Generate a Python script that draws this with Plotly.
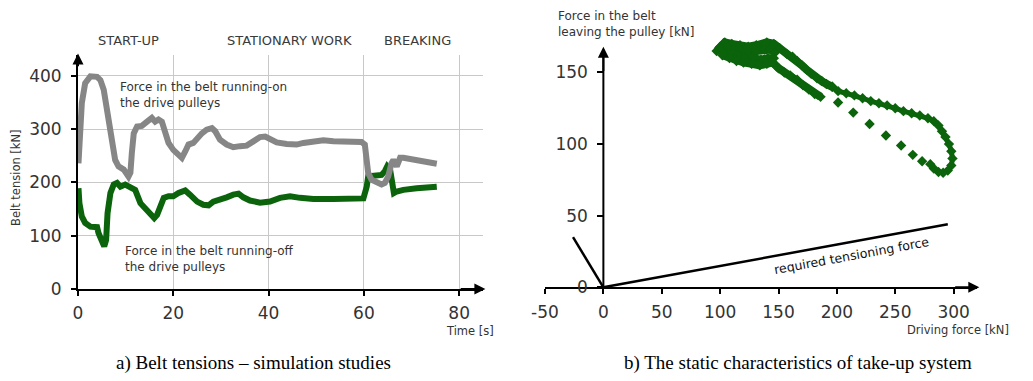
import plotly.graph_objects as go

# ---------------- data: left chart (belt tensions vs time) ----------------
on_t = [0.1, 0.4, 0.8, 1.5, 2.6, 4.0, 4.7, 5.4, 6.1, 6.8, 7.5, 7.8, 8.5, 9.6, 10.6,
        11.0, 11.3, 11.7, 12.4, 13.4, 14.5, 15.5, 16.2, 16.9, 17.6, 18.3, 19.0, 20.0,
        21.1, 21.8, 22.5, 23.2, 24.2, 25.0, 26.0, 27.0, 28.1, 28.8, 29.8, 31.2, 32.6,
        34.0, 35.4, 36.8, 38.2, 39.3, 40.3, 41.7, 43.8, 45.9, 47.3, 49.4, 51.5, 53.6,
        57.1, 59.5, 60.2, 60.6, 60.9, 61.6, 62.7, 63.7, 64.4, 65.1, 65.8, 66.2, 66.9,
        67.2, 67.6, 68.3, 70.4, 72.5, 75.3]
on_v = [236, 300, 349, 386, 399, 398, 392, 374, 336, 305, 267, 242, 230, 224, 211,
        218, 255, 292, 305, 306, 314, 321, 314, 318, 314, 292, 274, 261,
        252, 246, 258, 271, 274, 283, 292, 299, 302, 296, 280, 271, 266,
        268, 269, 277, 285, 286, 280, 275, 272, 271, 274, 277, 279, 277,
        276, 276, 271, 242, 218, 205, 199, 196, 199, 211, 236, 242, 230,
        236, 246, 246, 242, 239, 235]

off_t = [0.1, 0.3, 0.8, 1.5, 2.6, 4.0, 4.3, 5.0, 5.5, 5.9, 6.2, 6.8, 7.5, 8.2, 8.9,
         9.9, 11.0, 12.0, 13.1, 14.1, 15.2, 16.0, 16.6, 17.3, 18.0, 19.0, 20.0, 21.1,
         22.5, 23.5, 25.0, 26.3, 27.4, 28.4, 29.8, 31.2, 32.6, 33.7, 34.7, 36.1, 38.2,
         40.3, 42.4, 44.5, 46.6, 49.4, 53.6, 57.1, 59.9, 60.6, 60.9, 61.6, 63.0, 63.7,
         64.4, 64.9, 65.5, 66.0, 66.3, 66.9, 68.3, 71.1, 75.3]
off_v = [189, 161, 136, 124, 117, 116, 105, 86, 80, 92, 142, 180, 196, 199, 192,
         196, 192, 186, 161, 152, 142, 133, 139, 155, 171, 174, 174, 180,
         185, 177, 164, 158, 157, 164, 167, 172, 177, 179, 172, 166, 162,
         164, 171, 174, 171, 169, 169, 169, 170, 192, 211, 212, 212, 214,
         221, 230, 224, 199, 180, 183, 186, 189, 192]

left_xticks = [0, 20, 40, 60, 80]
left_yticks = [0, 100, 200, 300, 400]
phase_labels = ["START-UP", "STATIONARY WORK", "BREAKING"]

# ---------------- data: right chart (static characteristics) ----------------
clu_upper_x = [97, 100, 104, 110, 117, 124, 131, 140, 146, 151, 157, 162, 166, 170,
               174, 178, 183, 187, 191, 196]
clu_upper_y = [165, 168, 171, 170, 169, 168, 169, 171, 170, 167, 163, 161, 158, 155,
               152, 149, 146, 144, 142, 140]
clu_mid_x = [101, 106, 112, 118, 124, 131, 138, 143, 147]
clu_mid_y = [166, 167, 166, 165, 165, 165, 166, 166, 164]
clu_mid2_x = [103, 109, 115, 121, 128, 135, 141, 146]
clu_mid2_y = [164, 163, 162, 160, 160, 159, 160, 160]
clu_lower_x = [102, 108, 114, 120, 127, 134, 140, 145, 150, 155, 160, 166, 171, 176,
               181, 186]
clu_lower_y = [162, 160, 158, 157, 156, 155, 156, 157, 153, 150, 148, 145, 141, 138,
               135, 133]
branch_x = [196, 201, 208, 215, 222, 229, 236, 243, 250, 257, 264, 271, 278, 283, 287,
            290, 293, 296, 298, 299, 298, 295, 291, 287, 283]
branch_y = [140, 137, 135.5, 134, 132, 130, 128.5, 127, 125, 123, 121.5, 120, 118, 116,
            113, 109, 105, 100, 95, 90, 85, 81.5, 80, 80.5, 83]
return_x = [280, 273, 265, 255, 242, 228, 214, 201]
return_y = [86, 88, 92.5, 99, 106, 114, 122, 129]

req_x = [0, 295]
req_y = [0, 44]
aux_x = [0, -26]
aux_y = [0, 35]

right_xticks = [-50, 0, 50, 100, 150, 200, 250, 300]
right_xticktext = ["-50", "0", "50", "100", "150", "200", "250", "300"]
right_yticks = [0, 50, 100, 150]
right_ytop = 168   # top of the drawn force axis

# ---------------- styling ----------------
GRAY = "#868686"
GREEN = "#0b640b"
TXT = "#333333"
FONT = "DejaVu Sans"
W, H = 1033, 381


def px_x(p):
    return p / W


def px_y(p):
    return (H - p) / H


fig = go.Figure()

# left chart
fig.add_trace(go.Scatter(x=off_t, y=off_v, mode="lines", line=dict(color=GREEN, width=6),
                         xaxis="x", yaxis="y", showlegend=False, hoverinfo="skip"))
fig.add_trace(go.Scatter(x=on_t, y=on_v, mode="lines", line=dict(color=GRAY, width=6),
                         xaxis="x", yaxis="y", showlegend=False, hoverinfo="skip"))

# right chart
for xs, ys, lw in [(clu_upper_x, clu_upper_y, 8), (clu_mid_x, clu_mid_y, 8),
                   (clu_mid2_x, clu_mid2_y, 8),
                   (clu_lower_x, clu_lower_y, 8), (branch_x, branch_y, 5)]:
    fig.add_trace(go.Scatter(x=xs, y=ys, mode="lines+markers",
                             line=dict(color=GREEN, width=lw),
                             marker=dict(symbol="diamond", size=8, color=GREEN),
                             cliponaxis=False,
                             xaxis="x2", yaxis="y2", showlegend=False, hoverinfo="skip"))
fig.add_trace(go.Scatter(x=return_x, y=return_y, mode="markers",
                         marker=dict(symbol="diamond", size=8, color=GREEN),
                         xaxis="x2", yaxis="y2", showlegend=False, hoverinfo="skip"))
fig.add_trace(go.Scatter(x=req_x, y=req_y, mode="lines", line=dict(color="black", width=2.5),
                         xaxis="x2", yaxis="y2", showlegend=False, hoverinfo="skip"))
fig.add_trace(go.Scatter(x=aux_x, y=aux_y, mode="lines", line=dict(color="black", width=2.5),
                         xaxis="x2", yaxis="y2", showlegend=False, hoverinfo="skip"))

tickfont = dict(family=FONT, size=17, color=TXT)

# right y range extended above the drawn axis so the data is not clipped
y2_top_val = 182
y2_scale = (287.3 - 46.7) / right_ytop   # px per unit
y2_top_px = 287.3 - y2_top_val * y2_scale

fig.update_layout(
    width=W, height=H,
    margin=dict(l=0, r=0, t=0, b=0),
    paper_bgcolor="white", plot_bgcolor="rgba(0,0,0,0)",
    font=dict(family=FONT, color=TXT),
    xaxis=dict(domain=[px_x(78), px_x(483)], range=[0, 85], anchor="y", automargin=False,
               tickvals=left_xticks, ticks="outside", ticklen=5, tickwidth=2, tickcolor="black",
               showline=True, linecolor="black", linewidth=2,
               showgrid=True, gridcolor="#c8c8c8", gridwidth=1, zeroline=False,
               tickfont=tickfont, ticklabelstandoff=3, fixedrange=True),
    yaxis=dict(domain=[px_y(289), px_y(55)], range=[0, 439], anchor="x", automargin=False,
               tickvals=left_yticks, ticks="outside", ticklen=5, tickwidth=2, tickcolor="black",
               showline=True, linecolor="black", linewidth=2,
               showgrid=True, gridcolor="#c8c8c8", gridwidth=1, zeroline=False,
               tickfont=tickfont, ticklabelstandoff=6, fixedrange=True),
    xaxis2=dict(domain=[px_x(545), px_x(977)], range=[-50, 320], anchor="y2", automargin=False,
                tickvals=right_xticks, ticktext=right_xticktext,
                ticks="outside", ticklen=5, tickwidth=2, tickcolor="black",
                showline=True, linecolor="black", linewidth=2,
                showgrid=False, zeroline=False, tickfont=tickfont,
                ticklabelstandoff=3, fixedrange=True),
    yaxis2=dict(domain=[px_y(287.3), px_y(y2_top_px)], range=[0, y2_top_val], anchor="free",
                position=px_x(603.3), automargin=False,
                tickvals=right_yticks, ticks="outside", ticklen=6, tickwidth=2, tickcolor="black",
                showline=False, showgrid=False, zeroline=False, tickfont=tickfont,
                ticklabelstandoff=6, fixedrange=True),
    shapes=[dict(type="line", xref="x2", yref="y2", x0=0, x1=0, y0=0, y1=right_ytop - 4,
                 line=dict(color="black", width=2), layer="above")],
)

ann = []
# axis arrows
arrow = dict(showarrow=True, arrowhead=2, arrowsize=1.1, arrowwidth=2, arrowcolor="black",
             text="")
ann.append(dict(x=0, y=442, ax=0, ay=415, xref="x", yref="y", axref="x", ayref="y", **arrow))
ann.append(dict(x=85.5, y=0, ax=80, ay=0, xref="x", yref="y", axref="x", ayref="y", **arrow))
ann.append(dict(x=0, y=right_ytop, ax=0, ay=150, xref="x2", yref="y2", axref="x2", ayref="y2",
                **arrow))
ann.append(dict(x=322, y=0, ax=300, ay=0, xref="x2", yref="y2", axref="x2", ayref="y2", **arrow))

# phase labels
for lbl, cx in zip(phase_labels, [128, 289, 417]):
    ann.append(dict(x=px_x(cx), y=px_y(40), xref="paper", yref="paper", text=lbl,
                    showarrow=False, xanchor="center", yanchor="middle",
                    font=dict(family=FONT, size=13, color="#3a3a3a")))

# left axis titles
ann.append(dict(x=px_x(16), y=px_y(178), xref="paper", yref="paper", text="Belt tension [kN]",
                textangle=-90, showarrow=False, xanchor="center", yanchor="middle",
                font=dict(family=FONT, size=11.5, color=TXT)))
ann.append(dict(x=px_x(470), y=px_y(331), xref="paper", yref="paper", text="Time [s]",
                showarrow=False, xanchor="center", yanchor="middle",
                font=dict(family=FONT, size=11.5, color=TXT)))

# series labels
ann.append(dict(x=px_x(118), y=px_y(95), xref="paper", yref="paper",
                text="Force in the belt running-on<br>the drive pulleys", align="left",
                showarrow=False, xanchor="left", yanchor="middle",
                font=dict(family=FONT, size=12, color=TXT)))
ann.append(dict(x=px_x(123), y=px_y(259), xref="paper", yref="paper",
                text="Force in the belt running-off<br>the drive pulleys", align="left",
                showarrow=False, xanchor="left", yanchor="middle",
                font=dict(family=FONT, size=12, color=TXT)))

# right axis titles
ann.append(dict(x=px_x(556), y=px_y(24), xref="paper", yref="paper",
                text="Force in the belt<br>leaving the pulley [kN]", align="left",
                showarrow=False, xanchor="left", yanchor="middle",
                font=dict(family=FONT, size=12, color=TXT)))
ann.append(dict(x=px_x(958), y=px_y(330), xref="paper", yref="paper",
                text="Driving force [kN]", showarrow=False, xanchor="center", yanchor="middle",
                font=dict(family=FONT, size=11.5, color=TXT)))

# line label
ann.append(dict(x=213, y=22, xref="x2", yref="y2", text="required tensioning force",
                textangle=-10.4, showarrow=False, xanchor="center", yanchor="middle",
                font=dict(family=FONT, size=12.5, color="#111111")))

# captions
ann.append(dict(x=px_x(253.5), y=px_y(363), xref="paper", yref="paper",
                text="a) Belt tensions \u2013 simulation studies", showarrow=False,
                xanchor="center", yanchor="middle",
                font=dict(family="Liberation Serif", size=19, color="black")))
ann.append(dict(x=px_x(797.5), y=px_y(363), xref="paper", yref="paper",
                text="b) The static characteristics of take-up system", showarrow=False,
                xanchor="center", yanchor="middle",
                font=dict(family="Liberation Serif", size=19, color="black")))

fig.update_layout(annotations=ann)

fig.write_html("out.html", config={"displayModeBar": False},
               post_script="document.body.style.margin='0px';")
